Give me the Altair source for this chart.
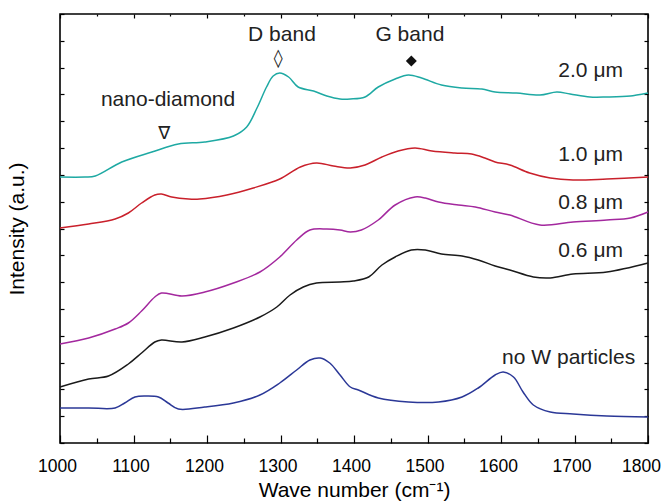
import altair as alt
import pandas as pd

# ---- data (intensity in arbitrary units) ----
wn_20 = [1000, 1034, 1048, 1084, 1125, 1161, 1197, 1236, 1254, 1268, 1281, 1290, 1299, 1311, 1324,
         1345, 1363, 1381, 1395, 1415, 1433, 1456, 1474, 1492, 1519, 1547, 1574, 1592, 1621, 1653,
         1676, 1694, 1721, 1744, 1776, 1800]
int_20 = [266, 266, 267, 281, 291, 299, 301, 307, 316, 335, 356, 367, 370, 366, 356,
          352, 347, 344, 344, 346, 356, 364, 368, 365, 358, 355, 354, 351, 350, 348,
          351, 349, 346, 346, 347, 350]

wn_10 = [1000, 1039, 1075, 1093, 1111, 1129, 1138, 1152, 1175, 1190, 1227, 1263, 1299, 1327, 1349,
         1372, 1395, 1415, 1438, 1460, 1483, 1506, 1537, 1560, 1578, 1592, 1612, 1639, 1667, 1698,
         1744, 1800]
int_10 = [215, 219, 224, 230, 240, 248, 249, 246, 244, 244, 248, 255, 264, 276, 280,
          277, 275, 278, 286, 292, 295, 292, 290, 289, 285, 281, 278, 270, 265, 263,
          264, 266]

wn_08 = [1000, 1039, 1075, 1093, 1111, 1129, 1138, 1166, 1197, 1236, 1272, 1299, 1322, 1340, 1363,
         1381, 1395, 1410, 1433, 1456, 1483, 1497, 1515, 1542, 1565, 1592, 1612, 1653, 1698, 1744,
         1776, 1800]
int_08 = [99, 105, 114, 120, 132, 146, 150, 147, 151, 160, 171, 186, 203, 213, 214,
          213, 211, 213, 223, 238, 246, 245, 241, 238, 236, 231, 228, 218, 221, 223,
          225, 231]

wn_06 = [1000, 1039, 1066, 1093, 1111, 1129, 1138, 1166, 1197, 1236, 1272, 1295, 1313, 1331, 1349,
         1381, 1399, 1420, 1438, 1456, 1478, 1497, 1519, 1547, 1569, 1592, 1612, 1644, 1667, 1698,
         1744, 1800]
int_06 = [56, 64, 67, 79, 90, 101, 103, 101, 106, 115, 126, 136, 148, 156, 160,
          161, 162, 166, 178, 186, 193, 193, 189, 187, 183, 177, 173, 166, 165, 169,
          171, 180]

wn_now = [1000, 1039, 1075, 1088, 1102, 1116, 1134, 1147, 1161, 1197, 1236, 1272, 1299, 1322, 1340,
          1354, 1367, 1381, 1395, 1406, 1433, 1474, 1515, 1547, 1569, 1592, 1603, 1617, 1630, 1644,
          1667, 1698, 1744, 1800]
int_now = [35, 35, 35, 40, 46, 47, 46, 40, 34, 36, 40, 48, 60, 73, 83,
           85, 80, 68, 56, 53, 45, 41, 41, 46, 55, 68, 71, 66, 51, 38,
           31, 29, 27, 26]

series_names = ["2.0 μm", "1.0 μm", "0.8 μm", "0.6 μm", "no W particles"]
series_colors = ["#1ea9a3", "#c9202b", "#a3289e", "#1a1a1a", "#2b3897"]

# annotations (text, wave number, intensity)
ann_text = ["D band", "G band", "nano-diamond", "2.0 μm", "1.0 μm", "0.8 μm", "0.6 μm", "no W particles"]
ann_wn = [1302, 1476, 1147, 1722, 1722, 1722, 1722, 1692]
ann_int = [408, 408, 343, 372, 288, 240, 192, 85]

sym_text = ["◊", "∇"]
sym_wn = [1297, 1142]
sym_int = [384, 309]

filled_wn = [1478]
filled_int = [382]

x_major = list(range(1000, 1801, 100))
x_minor = list(range(1050, 1800, 100))
Y_TOP = 429
y_ticks = [i * Y_TOP / 16 for i in range(17)]

rows = []
for name, wn, it in zip(series_names, [wn_20, wn_10, wn_08, wn_06, wn_now],
                        [int_20, int_10, int_08, int_06, int_now]):
    for w, v in zip(wn, it):
        rows.append({"series": name, "wn": w, "inten": v})
df = pd.DataFrame(rows)

ann_df = pd.DataFrame({"t": ann_text, "wn": ann_wn, "inten": ann_int})
sym_df = pd.DataFrame({"t": sym_text, "wn": sym_wn, "inten": sym_int})
fil_df = pd.DataFrame({"wn": filled_wn, "inten": filled_int})

FONT = "Liberation Sans"
xs = alt.Scale(domain=[1000, 1800], nice=False, zero=False)
ys = alt.Scale(domain=[0, Y_TOP], nice=False, zero=False)

tick_style = dict(domain=False, grid=False, tickColor="black", tickWidth=1.2)

lines = alt.Chart(df).mark_line(strokeWidth=1.5, interpolate="catmull-rom").encode(
    x=alt.X("wn:Q", scale=xs, axis=alt.Axis(
        orient="bottom", values=x_major, tickSize=8, offset=-8, format="d",
        labelFontSize=17.5, labelPadding=14, labelColor="black", labelFont=FONT,
        labelFlush=False, labelOverlap=False,
        labelOffset=alt.ExprRef("datum.value == 1800 ? -7 : -3"),
        title="Wave number (cm⁻¹)", titleFontSize=21, titleFontWeight="normal",
        titleFont=FONT, titleColor="black", titlePadding=5, **tick_style)),
    y=alt.Y("inten:Q", scale=ys, axis=alt.Axis(
        orient="left", values=y_ticks, tickSize=4, offset=-4, labels=False,
        title="Intensity (a.u.)", titleFontSize=21, titleFontWeight="normal",
        titleFont=FONT, titleColor="black", titlePadding=32, **tick_style)),
    color=alt.Color("series:N", scale=alt.Scale(domain=series_names, range=series_colors),
                    legend=None),
)

ax_bottom_minor = alt.Chart(df).mark_line(strokeOpacity=0).encode(
    x=alt.X("wn:Q", scale=xs, axis=alt.Axis(
        orient="bottom", values=x_minor, tickSize=5, offset=-5, labels=False, title=None,
        **tick_style)),
    y=alt.Y("inten:Q", scale=ys, axis=alt.Axis(
        orient="right", values=y_ticks, tickSize=4, offset=-4, labels=False, title=None,
        **tick_style)),
    detail="series:N",
)

ax_top_major = alt.Chart(df).mark_line(strokeOpacity=0).encode(
    x=alt.X("wn:Q", scale=xs, axis=alt.Axis(
        orient="top", values=x_major, tickSize=4, offset=-4, labels=False, title=None,
        **tick_style)),
    y=alt.Y("inten:Q", scale=ys, axis=None),
    detail="series:N",
)

ax_top_minor = alt.Chart(df).mark_line(strokeOpacity=0).encode(
    x=alt.X("wn:Q", scale=xs, axis=alt.Axis(
        orient="top", values=x_minor, tickSize=2, offset=-2, labels=False, title=None,
        **tick_style)),
    y=alt.Y("inten:Q", scale=ys, axis=None),
    detail="series:N",
)

texts = alt.Chart(ann_df).mark_text(font=FONT, fontSize=21, color="#222222",
                                    align="center", baseline="middle").encode(
    x=alt.X("wn:Q", scale=xs, axis=None),
    y=alt.Y("inten:Q", scale=ys, axis=None),
    text="t:N",
)

syms = alt.Chart(sym_df).mark_text(font="DejaVu Sans", fontSize=18, color="#222222",
                                   align="center", baseline="middle").encode(
    x=alt.X("wn:Q", scale=xs, axis=None),
    y=alt.Y("inten:Q", scale=ys, axis=None),
    text="t:N",
)

filled = alt.Chart(fil_df).mark_point(shape="diamond", filled=True, size=120,
                                      color="#111111", opacity=1).encode(
    x=alt.X("wn:Q", scale=xs, axis=None),
    y=alt.Y("inten:Q", scale=ys, axis=None),
)

chart = alt.layer(lines, ax_bottom_minor, ax_top_major, ax_top_minor, texts, syms, filled).resolve_axis(
    x="independent", y="independent"
).properties(
    width=588, height=429,
    autosize=alt.AutoSizeParams(type="none"),
    padding={"left": 60, "top": 14, "right": 17, "bottom": 59},
    background="white",
).configure_view(stroke="black", strokeWidth=1.6)

chart.save("out.html", embed_options={"renderer": "svg", "actions": False})
